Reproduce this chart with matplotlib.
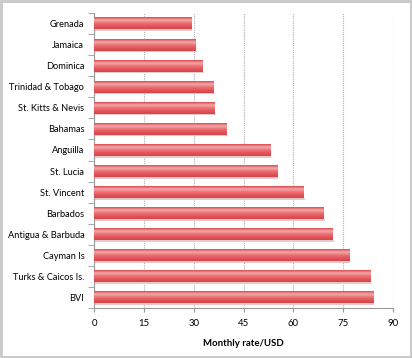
import matplotlib.pyplot as plt
import numpy as np
from matplotlib.colors import LinearSegmentedColormap

countries = ['Grenada', 'Jamaica', 'Dominica', 'Trinidad & Tobago', 'St. Kitts & Nevis',
             'Bahamas', 'Anguilla', 'St. Lucia', 'St. Vincent', 'Barbados',
             'Antigua & Barbuda', 'Cayman Is', 'Turks & Caicos Is.', 'BVI']
rates = [29.2, 30.7, 32.8, 36.1, 36.4, 40.0, 53.0, 55.1, 63.2, 69.0, 71.7, 76.8, 83.1, 84.0]
xticks = [0, 15, 30, 45, 60, 75, 90]

plt.rcParams['font.family'] = ['Lato', 'DejaVu Sans']

fig = plt.figure(figsize=(4.12, 3.58), dpi=100)
ax = fig.add_axes([94/412, 1-308/358, 299/412, 295/358])

# vertical gradient for the bars: red rim, pale highlight, red body, darker base
grad_cmap = LinearSegmentedColormap.from_list(
    'bar', ['#dc4a4f', '#f2a9ab', '#ec7275', '#e3545a', '#d4454a'])
grad = np.linspace(0, 1, 60).reshape(-1, 1)
h = 0.56
n = len(countries)
for i, v in enumerate(rates):
    y = n - 1 - i
    ax.imshow(grad, cmap=grad_cmap, aspect='auto', extent=(0, v, y - h/2, y + h/2),
              origin='upper', interpolation='bilinear', zorder=3)
    # soft shadow under the bar
    ax.barh(y - h/2 - 0.04, v + 0.4, height=0.08, color='#e6c9ca', zorder=2)

ax.set_xlim(0, 90)
ax.set_ylim(-0.5, n - 0.5)
ax.set_yticks(range(n))
ax.set_yticklabels(countries[::-1], fontsize=6.7)
ax.set_yticks(np.arange(-0.5, n, 1), minor=True)
ax.tick_params(axis='y', which='major', length=0, pad=7)
ax.tick_params(axis='y', which='minor', length=4, color='#999999', direction='out')
ax.set_xticks(xticks)
ax.set_xticklabels([str(t) for t in xticks], fontsize=6.9)
ax.tick_params(axis='x', length=3, color='#999999', pad=5)
ax.grid(axis='x', linestyle=(0, (1, 1)), color='#b0b0b0', linewidth=0.8, zorder=0)

for s in ['top', 'right']:
    ax.spines[s].set_visible(False)
ax.spines['left'].set_color('#999999')
ax.spines['bottom'].set_color('#999999')

ax.set_xlabel('Monthly rate/USD', fontsize=6.9, fontweight='bold', labelpad=8)

fig.patches.append(plt.Rectangle((0.003, 0.003), 0.994, 0.994, transform=fig.transFigure,
                                 fill=False, edgecolor='#c8c8c8', linewidth=2))

fig.savefig('out.png', dpi=100)
